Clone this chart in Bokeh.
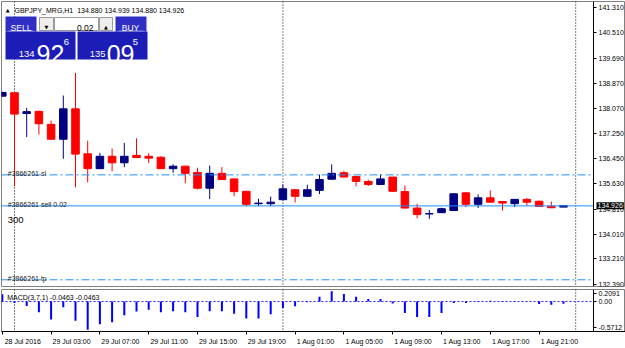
from bokeh.plotting import figure
from bokeh.layouts import column
from bokeh.models import (Range1d, FixedTicker, PrintfTickFormatter, CustomJSTickFormatter,
                          Span, Label, ColumnDataSource)
from bokeh.embed import file_html
from bokeh.resources import INLINE

# ---------------- data ----------------
symbol = "GBPJPY_MRG,H1"
last_ohlc = [134.880, 134.939, 134.880, 134.926]
bid = 134.926
ask = 135.095
lot = "0.02"

opens = [138.46, 138.57, 137.90, 137.97, 137.55, 137.07, 138.05, 136.60, 136.12, 136.52,
         136.31, 136.55, 136.52, 136.49, 136.12, 136.20, 136.00, 135.49, 135.97, 135.79,
         135.39, 134.99, 134.99, 135.12, 135.44, 135.23, 135.42, 135.78, 135.99, 135.87,
         135.71, 135.61, 135.85, 135.38, 134.85, 134.66, 134.70, 134.77, 135.34, 134.97,
         135.18, 135.06, 134.99, 135.13, 135.07, 134.91, 134.880]
highs = [138.60, 138.58, 138.08, 137.99, 137.67, 138.48, 139.21, 137.02, 136.63, 136.77,
         136.95, 137.10, 136.62, 136.52, 136.26, 136.21, 136.15, 136.22, 136.17, 135.80,
         135.40, 135.15, 135.22, 135.61, 135.45, 135.60, 135.93, 136.26, 136.05, 135.87,
         135.76, 135.93, 135.85, 135.58, 134.99, 134.79, 134.86, 135.32, 135.36, 135.29,
         135.42, 135.07, 135.13, 135.17, 135.09, 135.06, 134.939]
lows = [138.44, 135.55, 137.14, 137.22, 137.05, 136.44, 135.52, 135.68, 136.11, 136.04,
        136.17, 136.46, 136.30, 136.11, 135.99, 135.65, 135.45, 135.14, 135.76, 135.23,
        134.91, 134.91, 134.91, 135.09, 135.03, 135.21, 135.30, 135.77, 135.84, 135.55,
        135.56, 135.60, 135.38, 134.84, 134.52, 134.50, 134.69, 134.76, 134.88, 134.85,
        135.03, 134.77, 134.88, 134.93, 134.89, 134.85, 134.880]
closes = [138.58, 137.88, 137.96, 137.57, 137.07, 138.05, 136.59, 136.12, 136.52, 136.31,
          136.52, 136.48, 136.46, 136.12, 136.20, 135.97, 135.49, 135.97, 135.77, 135.38,
          134.97, 135.01, 135.04, 135.47, 135.23, 135.44, 135.77, 135.97, 135.85, 135.71,
          135.61, 135.79, 135.39, 134.85, 134.64, 134.67, 134.83, 135.31, 134.97, 135.18,
          135.04, 135.01, 135.13, 135.04, 134.90, 134.86, 134.926]
macd = [0.145, -0.030, -0.089, -0.214, -0.363, -0.117, -0.390, -0.5712, -0.460, -0.421,
        -0.279, -0.201, -0.167, -0.214, -0.195, -0.214, -0.312, -0.195, -0.195, -0.245,
        -0.343, -0.343, -0.259, -0.128, -0.097, -0.015, 0.098, 0.2091, 0.151, 0.098,
        0.053, 0.053, -0.039, -0.234, -0.312, -0.312, -0.234, -0.031, -0.031, 0.010,
        0.015, -0.010, 0.010, -0.005, -0.050, -0.064, -0.0463]
macd_name = "MACD(3,7,1)"

order_id = "#3866261"
order_lots = "0.02"
order_price = 134.920
sl_price = 135.920
tp_price = 132.536
note_text = "300"

price_ticks = [141.310, 140.510, 139.690, 138.870, 138.070, 137.250, 136.450,
               135.630, 134.810, 134.010, 133.210, 132.390]
time_tick_bars = [0, 4, 8, 12, 16, 20, 24, 28, 32, 36, 40, 44]
time_tick_labels = ["28 Jul 2016", "29 Jul 03:00", "29 Jul 07:00", "29 Jul 11:00",
                    "29 Jul 15:00", "29 Jul 19:00", "1 Aug 01:00", "1 Aug 05:00",
                    "1 Aug 09:00", "1 Aug 13:00", "1 Aug 17:00", "1 Aug 21:00"]
day_separator_bars = [1, 23, 47]

# ---------------- layout constants ----------------
W = 625
BAR_PX = 12.2
BAR0_PX = 1.8
FRAME_L = 1
FRAME_W = W - FRAME_L          # frames run to the right edge, price scale sits inside
SCALE_PX = 593                 # pixel column of the price-scale line
FRAME1_T = 1
FRAME1_H = 285
PX_PER_PRICE = 31.0
Y_TOP = 141.513
FRAME2_H = 42
MACD_SPAN_PX = 38.6

FONT = "Liberation Sans"
BULL = "#000080"
BEAR = "#FF0000"
LINE_BLUE = "#1E90FF"

x_lo = (FRAME_L - BAR0_PX) / BAR_PX
x_hi = x_lo + FRAME_W / BAR_PX
y_hi = Y_TOP
y_lo = Y_TOP - FRAME1_H / PX_PER_PRICE


def ux(px):
    return x_lo + (px - FRAME_L) / BAR_PX


def uy(py):
    return y_hi - (py - FRAME1_T) / PX_PER_PRICE


x_scale = ux(SCALE_PX)


def style_right_axis(ax):
    ax.fixed_location = x_scale
    ax.axis_line_color = "black"
    ax.major_tick_line_color = "black"
    ax.major_tick_out = 3
    ax.major_tick_in = 0
    ax.minor_tick_line_color = None
    ax.major_label_standoff = 2
    ax.major_label_text_font = FONT
    ax.major_label_text_font_size = "7px"
    ax.major_label_text_color = "black"


# ---------------- main price window ----------------
p1 = figure(width=W, height=FRAME1_T + FRAME1_H + 2,
            x_range=Range1d(x_lo, x_hi), y_range=Range1d(y_lo, y_hi),
            x_axis_type=None, y_axis_location="right",
            output_backend="svg", toolbar_location=None,
            min_border_left=FRAME_L, min_border_right=0,
            min_border_top=FRAME1_T, min_border_bottom=2,
            background_fill_color="white", border_fill_color="white",
            outline_line_color="#808080")
p1.grid.visible = False
style_right_axis(p1.yaxis[0])
p1.yaxis[0].ticker = FixedTicker(ticks=price_ticks)
p1.yaxis[0].formatter = PrintfTickFormatter(format="%.3f")

for b in day_separator_bars:
    p1.add_layout(Span(location=b, dimension="height", line_color="black",
                       line_dash="1 2", line_width=1, level="underlay"))

idx = list(range(len(opens)))
colors = [BULL if c >= o else BEAR for o, c in zip(opens, closes)]
src = ColumnDataSource(dict(
    x=idx, h=highs, l=lows,
    top=[max(o, c) for o, c in zip(opens, closes)],
    bottom=[min(o, c) for o, c in zip(opens, closes)],
    color=colors))
p1.segment(x0="x", y0="h", x1="x", y1="l", line_color="color", line_width=1, source=src)
p1.vbar(x="x", top="top", bottom="bottom", width=0.62, fill_color="color",
        line_color="color", line_width=1, source=src)

# order lines (stop at the price scale)
p1.segment(x0=[x_lo, x_lo], y0=[sl_price, tp_price], x1=[x_scale, x_scale],
           y1=[sl_price, tp_price], line_color=LINE_BLUE, line_dash="8 3 2 3", line_width=1)
p1.segment(x0=x_lo, y0=order_price, x1=x_scale, y1=order_price,
           line_color=LINE_BLUE, line_width=1)

for txt, yv, off in [(f"{order_id} sl", sl_price, 1.6),
                     (f"{order_id} sell {order_lots}", order_price, 1.3),
                     (f"{order_id} tp", tp_price, 1.0)]:
    p1.add_layout(Label(x=x_lo, y=yv, x_offset=6.3, y_offset=off, text=txt,
                        text_font=FONT, text_font_size="7px", text_color="#202020",
                        text_baseline="alphabetic", text_align="left"))
p1.add_layout(Label(x=x_lo, y=order_price, x_offset=6.3, y_offset=-14.2, text=note_text,
                    text_font=FONT, text_font_size="9.5px", text_color="black",
                    text_baseline="alphabetic", text_align="left"))

# current bid price box on the price scale
p1.add_layout(Label(x=x_scale, y=bid, x_offset=3, y_offset=0, text=f"{bid:.3f}",
                    text_font=FONT, text_font_size="7px", text_color="white",
                    text_baseline="middle", text_align="left",
                    background_fill_color="black", padding=1))

# ---------------- header and one-click panel ----------------
title = symbol + "\u00a0 " + " ".join(f"{v:.3f}" for v in last_ohlc)
p1.add_layout(Label(x=ux(5.2), y=uy(9.6), text="\u25b2", text_font="DejaVu Sans",
                    text_font_size="5px", text_color="black", text_baseline="alphabetic"))
p1.add_layout(Label(x=ux(14), y=uy(9.7), text=title, text_font=FONT,
                    text_font_size="7px", text_color="black", text_baseline="alphabetic"))

boxes = [  # (left, top, right, bottom) image px, fill, line
    (5, 16, 36, 31, "#2F2FC6", None),
    (5, 31, 75, 59, "#1C1CB6", None),
    (115, 16, 146, 31, "#2F2FC6", None),
    (77, 31, 147, 59, "#1C1CB6", None),
    (39, 17, 53, 30, "#EEEEEE", "#9A9A9A"),
    (54, 17, 98, 30, "white", "#9A9A9A"),
    (99, 17, 112, 30, "#EEEEEE", "#9A9A9A"),
]
for l, t, r, b, fc, lc in boxes:
    p1.quad(left=ux(l), right=ux(r), top=uy(t), bottom=uy(b), fill_color=fc,
            line_color=lc, line_width=1)
p1.segment(x0=ux(8), y0=uy(30.5), x1=ux(33), y1=uy(30.5), line_color="#8C8CE6", line_width=1)
p1.segment(x0=ux(118), y0=uy(30.5), x1=ux(143), y1=uy(30.5), line_color="#8C8CE6", line_width=1)

bid_s = f"{bid:.3f}"
ask_s = f"{ask:.3f}"
panel_texts = [  # text, x, y (baseline), size, color, align, font
    ("SELL", 20.5, 27.6, "8.5px", "white", "center", FONT),
    ("BUY", 130, 27.6, "8.5px", "white", "center", FONT),
    ("\u25bc", 46, 26, "5px", "black", "center", "DejaVu Sans"),
    ("\u25b2", 105.5, 26, "5px", "black", "center", "DejaVu Sans"),
    (lot, 93, 27, "8.5px", "black", "right", FONT),
    (bid_s[:3], 18.3, 53.3, "9.5px", "white", "left", FONT),
    (bid_s[4:6], 36, 53.3, "25px", "white", "left", FONT),
    (bid_s[6:], 63.3, 41.7, "9.5px", "white", "left", FONT),
    (ask_s[:3], 89.3, 53.3, "9.5px", "white", "left", FONT),
    (ask_s[4:6], 106.2, 53.3, "25px", "white", "left", FONT),
    (ask_s[6:], 132.3, 41.7, "9.5px", "white", "left", FONT),
]
for txt, px, py, fs, col, al, fnt in panel_texts:
    p1.add_layout(Label(x=ux(px), y=uy(py), text=txt, text_font=fnt, text_font_size=fs,
                        text_color=col, text_align=al, text_baseline="alphabetic"))

# ---------------- MACD window ----------------
macd_max = max(macd)
macd_min = min(macd)
macd_px = MACD_SPAN_PX / (macd_max - macd_min)
pad = (FRAME2_H - MACD_SPAN_PX) / 2 / macd_px
m_lo = macd_min - pad
m_hi = macd_max + pad

p2 = figure(width=W, height=1 + FRAME2_H + 17,
            x_range=p1.x_range, y_range=Range1d(m_lo, m_hi),
            y_axis_location="right", output_backend="svg", toolbar_location=None,
            min_border_left=FRAME_L, min_border_right=0,
            min_border_top=1, min_border_bottom=17,
            background_fill_color="white", border_fill_color="white",
            outline_line_color="#808080")
p2.grid.visible = False
style_right_axis(p2.yaxis[0])
macd_axis_ticks = [macd_min + 2.3 / macd_px, 0.0, macd_max - 2.6 / macd_px]
macd_axis_labels = [f"{macd_min:.4f}", "0.00", f"{macd_max:.4f}"]
p2.yaxis[0].ticker = FixedTicker(ticks=macd_axis_ticks)
p2.yaxis[0].formatter = CustomJSTickFormatter(args=dict(labels=macd_axis_labels),
                                              code="return labels[index];")

xa = p2.xaxis[0]
time_label_shift = 20.5 / BAR_PX
xa.ticker = FixedTicker(ticks=[b + time_label_shift for b in time_tick_bars],
                        minor_ticks=time_tick_bars)
xa.formatter = CustomJSTickFormatter(args=dict(labels=time_tick_labels),
                                     code="return labels[index];")
xa.axis_line_color = "black"
xa.major_tick_line_color = None
xa.major_tick_out = 0
xa.major_tick_in = 0
xa.minor_tick_line_color = "black"
xa.minor_tick_out = 3
xa.minor_tick_in = 0
xa.major_label_standoff = 3
xa.major_label_text_font = FONT
xa.major_label_text_font_size = "7px"
xa.major_label_text_color = "black"

for b in day_separator_bars:
    p2.add_layout(Span(location=b, dimension="height", line_color="black",
                       line_dash="1 2", line_width=1, level="underlay"))

p2.segment(x0=x_lo, y0=0, x1=x_scale, y1=0, line_color="#2020FF",
           line_dash="2 2", line_width=1)
p2.vbar(x=idx, top=macd, bottom=0, width=2 / BAR_PX, fill_color="#0000FF",
        line_color=None)

p2.add_layout(Label(x=x_lo, y=m_hi, x_offset=5.7, y_offset=-7.6,
                    text=f"{macd_name} {macd[-1]:.4f} {macd[-1]:.4f}",
                    text_font=FONT, text_font_size="7px", text_color="black",
                    text_baseline="alphabetic", text_align="left"))

layout = column(p1, p2, spacing=0)
open("out.html", "w").write(file_html(layout, INLINE))
